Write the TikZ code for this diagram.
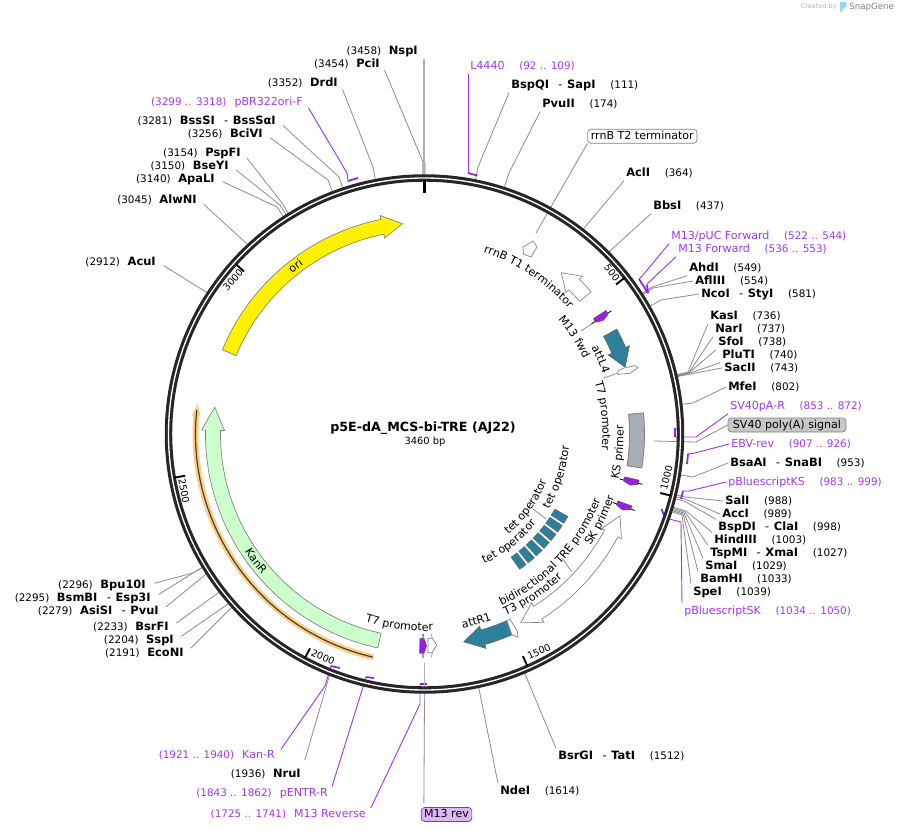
\documentclass[tikz,border=0pt]{standalone}
\usepackage{fontspec}
\setmainfont{DejaVu Sans}
\usetikzlibrary{calc,decorations.text}
\definecolor{ringdark}{HTML}{262626}
\definecolor{linkgray}{HTML}{8C8C8C}
\definecolor{primcol}{HTML}{A335EE}
\definecolor{primfill}{HTML}{9A1FE0}
\definecolor{tealfeat}{HTML}{2E7F9A}
\definecolor{kanfill}{HTML}{CCFFCC}
\definecolor{greyfeat}{HTML}{A8AEB6}
\definecolor{halo}{HTML}{FFCC80}
\newcommand\labfont{\fontsize{8.3pt}{9pt}\selectfont}
\newcommand\numfont{\fontsize{7.8pt}{9pt}\selectfont}
\newcommand\enzfont{\fontsize{8.6pt}{9pt}\selectfont\bfseries}
\newcommand\rs[2]{{\enzfont #1}\hspace{11pt}{\numfont(#2)}}
\newcommand\ls[2]{{\numfont(#1)}\hspace{5.7pt}{\enzfont #2}}
\newcommand\dsh{\hspace{7pt}{\mdseries-}\hspace{3.5pt}}
\newcommand\rp[2]{#1\hspace{11pt}{\numfont(#2)}}
\newcommand\lp[2]{{\numfont(#1)}\hspace{6pt}#2}
\newcommand\featarrow[4]{%
  \filldraw[#1] (#2:219) arc[start angle=#2,end angle=#3,radius=219] -- (#3:223) -- (#4:211.5)
    -- (#3:200) -- (#3:204) arc[start angle=#3,end angle=#2,radius=204] -- cycle;}
\newcommand\curvelab[4]{%
  \path[decorate,decoration={text along path,text={|\labfont|#4},text align=center}]
    (#2:#1) arc[start angle=#2,end angle=#3,radius=#1];}
\newcommand\primer[2]{%
  \begin{scope}[shift={(#1:212)},rotate=#1,yscale=#2]
    \draw[black,line width=0.6pt] (-11.8,0) -- (11.8,0);
    \filldraw[fill=primfill,draw=black!70,line width=0.3pt] (-7.5,-3.3) -- (7.5,-3.3) -- (7.5,1) -- (0,3.6) -- (-7.5,1) -- cycle;
  \end{scope}}
\tikzset{
  every node/.style={font=\labfont},
  lk/.style={draw=linkgray,line width=0.6pt},
  pk/.style={draw=primcol,line width=0.7pt},
  ptick/.style={draw=primfill,line width=1.3pt},
  rlab/.style={anchor=west,xshift=-1.5pt,inner sep=1.5pt,text height=6.6pt,text depth=1.6pt},
  llab/.style={anchor=east,xshift=1.5pt,inner sep=1.5pt,text height=6.6pt,text depth=1.6pt},
  feat/.style={draw=gray,line width=0.5pt,fill=white},
  tag/.style={rounded corners=2.5pt,line width=0.5pt,inner sep=0pt,minimum height=10.5pt,text height=6.3pt,text depth=1.6pt}
}
\begin{document}
\begin{tikzpicture}[x=0.75pt,y=0.75pt]
  \useasboundingbox (0,0) rectangle (897,-831);
  \coordinate (centre) at (424.5,-434);

  % created by
  \node[text=gray!60,font=\fontsize{4.9pt}{6pt}\selectfont,anchor=east,inner sep=0pt] (made) at (837,-7) {Created by};
  \node[text=gray,font=\fontsize{6.5pt}{8pt}\selectfont,anchor=west,inner sep=0pt] (snap) at (849,-7) {SnapGene};
  \fill[cyan!45] (840,-2) -- (846,-2) .. controls (848,-5) and (846,-8) .. (843,-8) -- (842,-12) -- (840,-12) -- cycle;

  % enzyme sites, labels on the right
  \foreach \nm/\lx/\ly/\an/\ex/\ey/\txt in {
    BspQI/511/85/south west/478/167/{\rs{BspQI\dsh SapI}{111}},
    PvuII/542/104/south west/509/173/{\rs{PvuII}{174}},
    AclI/626/173/south west/585/227/{\rs{AclI}{364}},
    BbsI/653/206/south west/611/250/{\rs{BbsI}{437}},
    AhdI/689/268/south west/652/287/{\rs{AhdI}{549}},
    AflIII/695/281/west/653/288/{\rs{AflIII}{554}},
    NcoI/701/294/west/661/300/{\rs{NcoI\dsh StyI}{581}},
    KasI/710/316/south west/688/372/{\rs{KasI}{736}},
    NarI/715/329/south west/689/372.5/{\rs{NarI}{737}},
    SfoI/718/342/south west/689/373/{\rs{SfoI}{738}},
    PluTI/722/355/south west/689/373.5/{\rs{PluTI}{740}},
    SacII/724/368/west/680/376/{\rs{SacII}{743}},
    MfeI/728/387/west/693/403/{\rs{MfeI}{802}},
    BsaAI/730/463/west/693/477/{\rs{BsaAI\dsh SnaBI}{953}},
    SalI/725/501/west/685/497/{\rs{SalI}{988}},
    AccI/722/514/west/685/499/{\rs{AccI}{989}},
    BspDI/718/527/north west/684/501/{\rs{BspDI\dsh ClaI}{998}},
    HindIII/714/540/north west/686/511/{\rs{HindIII}{1003}},
    TspMI/710/553/north west/685/512/{\rs{TspMI\dsh XmaI}{1027}},
    SmaI/705/566/north west/684/513/{\rs{SmaI}{1029}},
    BamHI/700/579/north west/683/514/{\rs{BamHI}{1033}},
    SpeI/693/592/north west/682/515/{\rs{SpeI}{1039}},
    BsrGI/558/756/north west/525/674/{\rs{BsrGI\dsh TatI}{1512}},
    NdeI/500/791/north west/479/689/{\rs{NdeI}{1614}}}{
    \node[rlab] (\nm) at (\lx,-\ly) {\txt};
    \coordinate (\nm-b) at (\ex,-\ey);
    \draw[lk] (\nm.\an) -- (\nm-b) -- ($(centre)!192pt!(\nm-b)$);
  }

  % enzyme sites, labels on the left
  \foreach \nm/\lx/\ly/\an/\ex/\ey/\txt in {
    PciI/380/64/east/423/162/{\ls{3454}{PciI}},
    DrdI/338/83/east/373/167/{\ls{3352}{DrdI}},
    BssSI/276/121/east/339/177/{\ls{3281}{BssSI\dsh BssSαI}},
    BciVI/263/134/east/328/180/{\ls{3256}{BciVI}},
    PspFI/241/153/east/282/203/{\ls{3154}{PspFI}},
    BseYI/229/166/east/280/205/{\ls{3150}{BseYI}},
    ApaLI/215/179/east/277/207/{\ls{3140}{ApaLI}},
    AlwNI/197/200/east/246/243/{\ls{3045}{AlwNI}},
    AcuI/156/262/east/206/292/{\ls{2912}{AcuI}},
    Bpu/146/585/east/193/573/{\ls{2296}{Bpu10I}},
    BsmBI/151/598/east/193/573/{\ls{2295}{BsmBI\dsh Esp3I}},
    AsiSI/159/611/east/205/575/{\ls{2279}{AsiSI\dsh PvuI}},
    BsrFI/169/627/east/218/593/{\ls{2233}{BsrFI}},
    SspI/174/640/east/228/604/{\ls{2204}{SspI}},
    EcoNI/184/653/east/231/608/{\ls{2191}{EcoNI}},
    NruI/301/774/north east/329/677/{\ls{1936}{NruI}}}{
    \node[llab] (\nm) at (\lx,-\ly) {\txt};
    \coordinate (\nm-b) at (\ex,-\ey);
    \draw[lk,shorten <=5pt] (\nm.\an) -- (\nm-b) -- ($(centre)!192pt!(\nm-b)$);
  }
  \node[llab] (NspI) at (418,-51) {\ls{3458}{NspI}};
  \coordinate (NspI-b) at (424,-163);
  \draw[draw=linkgray!70,line width=1.1pt] ([xshift=3pt]NspI.south east) -- (NspI-b);
  \draw[draw=linkgray!70,line width=2.4pt] (NspI-b) -- ($(centre)!192pt!(NspI-b)$);

  % primers, labels on the right
  \foreach \nm/\lx/\ly/\an/\ex/\ey/\ax/\ay/\bx/\by/\txt in {
    Lfour/470/66/south west/468/173/468/173/477.5/175.6/{\rp{L4440}{92 .. 109}},
    Mpuc/671/236/south west/643/275/639/279/648/293/{\rp{M13/pUC Forward}{522 .. 544}},
    Mfwd/678/249/south west/647/284/647/285/648/293/{\rp{M13 Forward}{536 .. 553}},
    SVr/730/406/south west/696/437/675/437/675/428/{\rp{SV40pA-R}{853 .. 872}},
    EBV/731/444/west/695/453/688/454/687/464/{\rp{EBV-rev}{907 .. 926}},
    BKS/728/482/west/689/491/683/491/681/499/{\rp{pBluescriptKS}{983 .. 999}},
    BSK/684/611/north west/681/522/665/518/661.5/509/{\rp{pBluescriptSK}{1034 .. 1050}}}{
    \node[rlab,text=primcol] (\nm) at (\lx,-\ly) {\txt};
    \coordinate (\nm-b) at (\ex,-\ey);
    \coordinate (\nm-t) at (\ax,-\ay);
    \coordinate (\nm-u) at (\bx,-\by);
    \draw[pk] (\nm.\an) -- (\nm-b) -- (\nm-t);
    \draw[ptick] (\nm-t) -- (\nm-u);
  }

  % primers, labels on the left
  \foreach \nm/\lx/\ly/\ex/\ey/\ax/\ay/\bx/\by/\txt in {
    pBR/303/102/347/173/348/181/358/178/{\lp{3299 .. 3318}{pBR322ori-F}},
    KanF/275/755/325/686/331/666/340/668/{\lp{1921 .. 1940}{Kan-R}},
    pENTR/328/793/363/687/366/677/374/678/{\lp{1843 .. 1862}{pENTR-R}},
    Mrev/366/814/420/704/420/684/427/684/{\lp{1725 .. 1741}{M13 Reverse}}}{
    \node[llab,text=primcol] (\nm) at (\lx,-\ly) {\txt};
    \coordinate (\nm-b) at (\ex,-\ey);
    \coordinate (\nm-t) at (\ax,-\ay);
    \coordinate (\nm-u) at (\bx,-\by);
    \draw[pk,shorten <=5pt] (\nm.east) -- (\nm-b) -- (\nm-t);
    \draw[ptick] (\nm-t) -- (\nm-u);
  }

  % boxed feature labels
  \node[tag,draw=gray,fill=white,minimum width=82pt] (rrnT) at (642.3,-136.3) {rrnB T2 terminator};
  \node[tag,draw=gray,fill=black!22,minimum width=88.5pt] (SVsig) at (787,-425) {SV40 poly(A) signal};
  \node[tag,draw=primfill,fill=primfill!33,minimum width=38pt] (M13rev) at (446.5,-814.5) {M13 rev};
  \coordinate (rrnT-e) at (536,-233);
  \coordinate (SVsig-b) at (696,-442);
  \coordinate (SVsig-e) at (654,-441);
  \coordinate (M13rev-b) at (424.5,-700);
  \coordinate (M13rev-e) at (424.5,-663);
  \draw[lk] (rrnT.south west) -- (rrnT-e);
  \draw[lk] (SVsig.west) -- (SVsig-b) -- (SVsig-e);
  \draw[lk,shorten <=3pt] ([xshift=2.25pt]M13rev.north west) -- (M13rev-b);
  \draw[draw=linkgray!70,line width=1.1pt] (M13rev-b) -- (M13rev-e);

  % short leaders from the inner labels
  \foreach \nm/\ax/\ay/\bx/\by in {mfw/581/331/593/323,tseven/604/378/618/373,teto/533/509/546/519,tre/562/558/572/572}{
    \coordinate (\nm-a) at (\ax,-\ay);
    \coordinate (\nm-b) at (\bx,-\by);
    \draw[lk] (\nm-a) -- (\nm-b);
  }

  % backbone
  \draw[ringdark,line width=5.6pt] (centre) circle[radius=256];
  \draw[white,line width=1pt] (centre) circle[radius=256];

  \begin{scope}[shift={(centre)}]
    % ticks
    \foreach \a in {37.98,-14.05,-66.1,-118.1,-170.1,138}{
      \draw[black,line width=1.4pt] (\a:243) -- (\a:254);
    }
    \draw[black,line width=1.7pt] (90:241) -- (90:254);

    % features
    \featarrow{draw=gray,line width=0.5pt,fill=yellow}{157.4}{101.5}{96}
    \featarrow{draw=gray,line width=0.5pt,fill=kanfill}{257.7}{179}{172.7}
    \featarrow{feat}{40.5}{45}{49.7}
    \featarrow{draw=gray!80!black,line width=0.5pt,fill=tealfeat}{28.6}{23.3}{18.4}
    \featarrow{draw=gray!80!black,line width=0.5pt,fill=tealfeat}{-66.2}{-74}{-79.3}
    \filldraw[feat] (-57.6:219) arc[start angle=-57.6,end angle=-28,radius=219] -- (-28:223) -- (-22.7:212)
      -- (-28:201) -- (-28:204) arc[start angle=-28,end angle=-57.6,radius=204] -- (-57.6:200) -- (-63:212) -- (-57.6:223) -- cycle;
    \filldraw[draw=gray,line width=0.6pt,fill=greyfeat] (5.5:220) arc[start angle=5.5,end angle=-8.9,radius=220]
      -- (-8.9:205) arc[start angle=-8.9,end angle=5.5,radius=205] -- cycle;
    \draw[halo,line width=4.4pt] (174.5:229) arc[start angle=174.5,end angle=257,radius=229];
    \fill[halo] (175.5:233.5) -- (172.4:229) -- (175.5:224.5) -- cycle;
    \draw[black!75,line width=0.9pt] (174:229) arc[start angle=174,end angle=257,radius=229];
    \foreach \i in {0,...,6}{
      \pgfmathsetmacro\a{-31.3-\i*3.7}
      \filldraw[draw=gray!80!black,line width=0.3pt,fill=tealfeat] (\a-1.4:150.5) -- (\a+1.4:150.5) -- (\a+1.4:165.5) -- (\a-1.4:165.5) -- cycle;
    }
    \primer{33.4}{-1}
    \primer{-13}{-1}
    \primer{-20}{-1}
    \primer{-90.4}{1}

    % feature names
    \curvelab{191}{78}{35}{rrnB T1 terminator}
    \curvelab{176}{46}{20}{M13 fwd}
    \curvelab{188}{33}{13}{attL4}
    \curvelab{178}{22}{-10.3}{T7 promoter}
    \curvelab{199}{-19}{8.5}{KS primer}
    \curvelab{200}{-40}{-12.4}{SK primer}
    \curvelab{145}{-38}{2}{tet operator}
    \curvelab{131}{-57}{-14.4}{tet operator}
    \curvelab{143}{-72}{-32}{tet operator}
    \curvelab{188}{-73}{-13.4}{bidirectional TRE promoter}
    \curvelab{199}{-72}{-40}{T3 promoter}
    \curvelab{198}{-85}{-64}{attR1}
    \curvelab{197}{-113}{-82}{T7 promoter}
    \curvelab{215}{207}{227}{KanR}
    \curvelab{208}{136}{119}{ori}
  \end{scope}

  % tick numbers
  \foreach \nm/\lx/\ly/\rot/\txt in {five/612/273/-52/500,ten/666.5/478/76/1000,fifteen/539/651.5/24/1500,twenty/323/657/-25/2000,twentyfive/184/491/-80/2500,thirty/233/280/48/3000}{
    \node[inner sep=0pt,rotate=\rot,font=\fontsize{7.2pt}{8pt}\selectfont] (tk\nm) at (\lx,-\ly) {\txt};
  }

  % small outlined features
  \filldraw[feat] (523,-247) -- (533,-241) -- (537,-247) -- (531,-257) -- (523.5,-254) -- cycle;
  \filldraw[feat] (618,-371) -- (622.7,-368.3) -- (635,-365.7) -- (638,-367.7) -- (630,-373.3) -- (618,-374.3) -- cycle;
  \filldraw[feat] (507,-621) -- (510,-619) -- (517.5,-632) -- (518,-637) -- (512,-635) -- cycle;
  \filldraw[feat] (428,-638.3) -- (432.3,-638.3) -- (436.7,-645) -- (432.3,-652.7) -- (428,-652.7) -- cycle;
  \draw[draw=gray,line width=0.5pt] (431.7,-634) -- (432,-638.3) (432,-652.7) -- (431.7,-657.7);

  % centre
  \node[inner sep=0pt,font=\fontsize{9.5pt}{10pt}\selectfont\bfseries] (title) at (423,-428) {p5E-dA\_MCS-bi-TRE (AJ22)};
  \node[inner sep=0pt,font=\fontsize{7.4pt}{8pt}\selectfont] (size) at (425,-442) {3460 bp};
\end{tikzpicture}
\end{document}
